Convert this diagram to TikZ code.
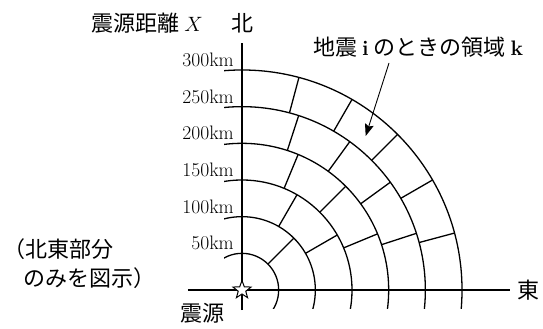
\documentclass[tikz,border=0pt]{standalone}
\usepackage{fontspec}
\newfontfamily\jp{Noto Sans CJK JP}
\usetikzlibrary{shapes.geometric,arrows.meta}
\begin{document}
\begin{tikzpicture}[x=1pt,y=1pt,
  ring/.style={line width=1.3pt},
  axisline/.style={line width=1.3pt},
  kmlabel/.style={font=\fontsize{19.5}{21}\selectfont, inner sep=0pt, anchor=base east},
  jptext/.style={font=\fontsize{22}{26}\selectfont\jp, inner sep=0pt},
  pointer/.style={line width=0.9pt, -{Stealth[length=12pt,width=9pt,inset=2pt]}}]
\useasboundingbox (-242,-39) rectangle (301,290);
\def\R{36.67}
% rings
\begin{scope}
  \clip (-18,-18) rectangle (260,260);
  \foreach \n in {1,...,6} \draw[ring] (0,0) circle ({\n*\R});
\end{scope}
% radial dividers
\foreach \n in {2,...,6}{
  \pgfmathtruncatemacro\m{\n-1}
  \foreach \j in {1,...,\m}
    \draw[ring] ({90*\j/\n}:{(\n-1)*\R}) -- ({90*\j/\n}:{\n*\R});
}
% axes
\coordinate (vbot) at (0,-20);
\coordinate (vtop) at (0,247);
\coordinate (hleft) at (-54,0);
\coordinate (hright) at (268,0);
\draw[axisline] (vbot) -- (vtop);
\draw[axisline] (hleft) -- (hright);
% source star
\node[star, star points=5, star point ratio=2.4, draw, fill=white, line width=1pt,
      minimum size=19pt, inner sep=0pt] (src) at (0,0) {};
% distance labels
\foreach \n/\t in {1/50,2/100,3/150,4/200,5/250,6/300}
  \node[kmlabel] (km\n) at (-8,{\n*\R+3.5}) {\t km};
% texts
\node[jptext] (north) at (0,267) {北};
\node[jptext, anchor=east] (xlabel) at (-39,267) {震源距離 \rmfamily$X$};
\node[jptext] (east) at (286,0) {東};
\node[jptext] (srclabel) at (-39,-23) {震源};
\node[jptext, anchor=west] (note1) at (-239,41) {（北東部分};
\node[jptext, anchor=west] (note2) at (-219,12) {のみを図示）};
\node[jptext, anchor=west] (region) at (71,243)
  {地震 {\rmfamily\bfseries\fontsize{21}{24}\selectfont i} のときの領域 {\rmfamily\bfseries\fontsize{21}{24}\selectfont k}};
% pointer
\coordinate (as) at (147,227);
\coordinate (ae) at (123.7,154);
\draw[pointer] (as) -- (ae);
\end{tikzpicture}
\end{document}
